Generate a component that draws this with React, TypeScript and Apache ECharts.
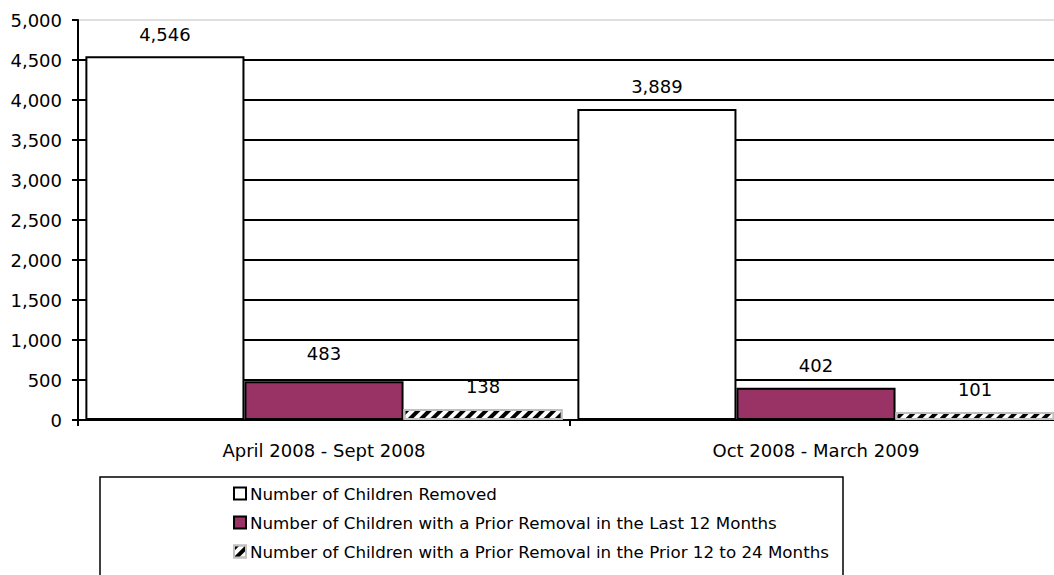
import React, { useEffect, useRef } from "react";
import * as echarts from "echarts";

const categories = ["April 2008 - Sept 2008", "Oct 2008 - March 2009"];
const removed = [4546, 3889];
const priorLast12 = [483, 402];
const prior12to24 = [138, 101];
const seriesNames = [
  "Number of Children Removed",
  "Number of Children with a Prior Removal in the Last 12 Months",
  "Number of Children with a Prior Removal in the Prior 12 to 24 Months",
];

const FONT = "'DejaVu Sans', 'Liberation Sans', Arial, sans-serif";
const FS = 18;
const fmt = (v: number) => v.toLocaleString("en-US");

export default function App() {
  const ref = useRef<HTMLDivElement>(null);
  useEffect(() => {
    if (!ref.current) return;
    const chart = echarts.init(ref.current, null, { renderer: "svg" });
    const label = {
      show: true,
      position: "top" as const,
      distance: 13,
      color: "#000",
      fontFamily: FONT,
      fontSize: FS,
      formatter: (p: any) => fmt(p.value),
    };
    const splitColors = Array.from({ length: 10 }, () => "#000").concat(["rgba(0,0,0,0)"]);
    chart.setOption({
      animation: false,
      backgroundColor: "#fff",
      textStyle: { fontFamily: FONT },
      grid: {
        left: 78,
        top: 20,
        bottom: 155,
        right: -8,
        outerBoundsMode: "none",
        containLabel: false,
        show: true,
        borderColor: "#c0c0c0",
        borderWidth: 1,
        backgroundColor: "transparent",
      },
      xAxis: {
        type: "category",
        data: categories,
        axisLine: { show: true, lineStyle: { color: "#000", width: 2 } },
        axisTick: { show: true, length: 6, lineStyle: { color: "#000", width: 2 } },
        axisLabel: { color: "#000", fontSize: FS, fontFamily: FONT, margin: 21 },
      },
      yAxis: {
        type: "value",
        min: 0,
        max: 5000,
        interval: 500,
        axisLine: { show: true, lineStyle: { color: "#000", width: 2 } },
        axisTick: { show: true, length: 6, lineStyle: { color: "#000", width: 2 } },
        axisLabel: { color: "#000", fontSize: FS, fontFamily: FONT, margin: 16, formatter: (v: number) => fmt(v) },
        splitLine: { show: true, lineStyle: { color: splitColors, width: 2 } },
      },
      legend: {
        orient: "vertical",
        left: 233,
        top: 485,
        padding: 0,
        itemWidth: 12,
        itemHeight: 12,
        itemGap: 12,
        icon: "rect",
        textStyle: { color: "#000", fontSize: 16.7, fontFamily: FONT, padding: [0, 0, 0, -1] },
        data: seriesNames,
      },
      graphic: [
        {
          type: "rect",
          shape: { x: 100, y: 477, width: 743, height: 120 },
          style: { fill: "none", stroke: "#000", lineWidth: 1.5 },
          z: -1,
        },
      ],
      series: [
        {
          name: seriesNames[0],
          type: "bar",
          data: removed,
          barGap: "0%",
          barCategoryGap: "3%",
          itemStyle: { color: "#fff", borderColor: "#000", borderWidth: 2 },
          label,
        },
        {
          name: seriesNames[1],
          type: "bar",
          data: priorLast12.map((v, i) => (i === 0 ? { value: v, label: { distance: 19 } } : v)),
          itemStyle: { color: "#993366", borderColor: "#000", borderWidth: 2 },
          label,
        },
        {
          name: seriesNames[2],
          type: "bar",
          data: prior12to24,
          itemStyle: {
            color: "#fff",
            borderColor: "#c0c0c0",
            borderWidth: 2,
            decal: {
              symbol: "rect",
              color: "#000",
              backgroundColor: "#fff",
              dashArrayX: [1, 0],
              dashArrayY: [4, 4],
              rotation: -Math.PI / 4,
            },
          },
          label,
        },
      ],
    });
    return () => chart.dispose();
  }, []);
  return (
    <div
      ref={ref}
      style={{ position: "fixed", left: 0, top: 0, width: 1054, height: 575, background: "#fff" }}
    />
  );
}
